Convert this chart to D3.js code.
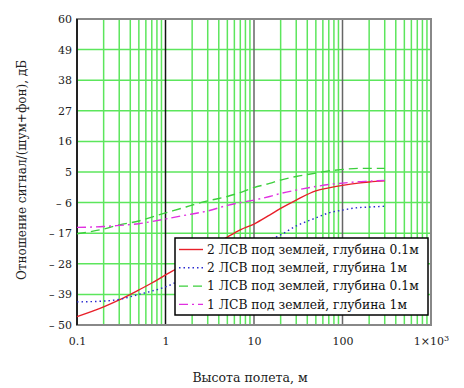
<!DOCTYPE html>
<html>
<head>
<meta charset="utf-8">
<script src="https://cdn.jsdelivr.net/npm/d3@7"></script>
<style>
  body { margin: 0; background: #fff; }
</style>
</head>
<body>
<div id="chart"></div>
<script>
// Flight height, m
const heights = [0.1, 0.2, 0.3, 0.5, 0.7, 1, 1.5, 2, 3, 5, 7, 10, 15, 20, 30, 50, 70, 100, 150, 200, 300];

// Signal/(noise+background), dB
const red01 = [-47.0, -43.5, -41.0, -37.4, -34.9, -32.0, -28.8, -26.3, -22.7, -18.4, -15.8, -13.7, -10.5, -8.1, -5.1, -1.8, -0.7, 0.2, 1.0, 1.4, 1.8];
const blue1 = [-41.7, -41.4, -40.8, -39.0, -37.8, -36.3, -33.8, -32.0, -29.5, -26.6, -24.5, -22.3, -19.4, -17.6, -14.4, -11.5, -9.7, -8.7, -7.8, -7.6, -7.3];
const green01 = [-17.2, -15.5, -14.0, -12.6, -11.2, -9.7, -8.1, -6.9, -5.4, -3.8, -2.4, -0.6, 0.9, 2.1, 3.4, 4.6, 5.4, 5.9, 6.3, 6.3, 6.3];
const magenta1 = [-14.9, -14.6, -14.2, -13.6, -12.8, -11.9, -10.8, -10.1, -9.0, -7.0, -6.0, -5.1, -3.8, -2.7, -1.5, -0.2, 0.5, 1.0, 1.5, 1.7, 2.0];

const seriesNames = [
  "2 ЛСВ под землей, глубина 0.1м",
  "2 ЛСВ под землей, глубина 1м",
  "1 ЛСВ под землей, глубина 0.1м",
  "1 ЛСВ под землей, глубина 1м",
];

const yTicks = [-50, -39, -28, -17, -6, 5, 16, 27, 38, 49, 60];
const xTicks = [0.1, 1, 10, 100, 1000];
const xTickLabels = ["0.1", "1", "10", "100", "1×10"];

const width = 464;
const height = 388;
const plot = { left: 77, right: 431, top: 19, bottom: 325 };
const serif = "DejaVu Serif";

const svg = d3
  .select("#chart")
  .append("svg")
  .attr("width", width)
  .attr("height", height);

const xScale = d3.scaleLog().domain([0.1, 1000]).range([plot.left, plot.right]);
const yScale = d3.scaleLinear().domain([-50, 60]).range([plot.bottom, plot.top]);

// Grid: minor verticals in green, decades dark
const minor = [];
[0.1, 1, 10, 100].forEach((d) => {
  for (let k = 2; k <= 9; k++) minor.push(k * d);
});

svg
  .append("g")
  .selectAll("line")
  .data(minor)
  .enter()
  .append("line")
  .attr("x1", (d) => xScale(d))
  .attr("x2", (d) => xScale(d))
  .attr("y1", plot.top)
  .attr("y2", plot.bottom)
  .attr("stroke", "#5ce65c")
  .attr("stroke-width", 1.5);

svg
  .append("g")
  .selectAll("line")
  .data(yTicks.slice(1, -1))
  .enter()
  .append("line")
  .attr("x1", plot.left)
  .attr("x2", plot.right)
  .attr("y1", (d) => yScale(d))
  .attr("y2", (d) => yScale(d))
  .attr("stroke", "#5ce65c")
  .attr("stroke-width", 1.5);

svg
  .append("g")
  .selectAll("line")
  .data([1, 10, 100])
  .enter()
  .append("line")
  .attr("x1", (d) => xScale(d))
  .attr("x2", (d) => xScale(d))
  .attr("y1", plot.top)
  .attr("y2", plot.bottom)
  .attr("stroke", (d) => (d === 1 ? "#111" : "#666"))
  .attr("stroke-width", 1.5);

// Frame
svg
  .append("rect")
  .attr("x", plot.left)
  .attr("y", plot.top)
  .attr("width", plot.right - plot.left)
  .attr("height", plot.bottom - plot.top)
  .attr("fill", "none")
  .attr("stroke", "#888")
  .attr("stroke-width", 2);

svg
  .append("line")
  .attr("x1", plot.left)
  .attr("x2", plot.left)
  .attr("y1", plot.top)
  .attr("y2", plot.bottom)
  .attr("stroke", "#000")
  .attr("stroke-width", 1.5);

// Curves
const series = [
  { values: red01, color: "#e8202a", dash: null },
  { values: blue1, color: "#2a2ad0", dash: "1.5,3" },
  { values: green01, color: "#3ccf3c", dash: "9,5" },
  { values: magenta1, color: "#e030e0", dash: "9,4,2,4" },
];

const line = d3
  .line()
  .x((d) => xScale(d[0]))
  .y((d) => yScale(d[1]))
  .curve(d3.curveMonotoneX);

series.forEach((s) => {
  svg
    .append("path")
    .datum(heights.map((h, i) => [h, s.values[i]]))
    .attr("d", line)
    .attr("fill", "none")
    .attr("stroke", s.color)
    .attr("stroke-width", 1.4)
    .attr("stroke-dasharray", s.dash);
});

// Y axis labels
const yAxis = d3
  .axisLeft(yScale)
  .tickValues(yTicks)
  .tickSize(0)
  .tickPadding(5)
  .tickFormat((d) => (d < 0 ? "– " + Math.abs(d) : d));
svg
  .append("g")
  .attr("transform", "translate(" + plot.left + ",0)")
  .call(yAxis)
  .attr("font-family", serif)
  .attr("font-size", 11)
  .call((g) => g.select(".domain").remove())
  .selectAll("text")
  .attr("fill", "#222");

// X axis labels
const xAxis = d3
  .axisBottom(xScale)
  .tickValues(xTicks)
  .tickSize(0)
  .tickPadding(12)
  .tickFormat((d, i) => xTickLabels[i]);
const xg = svg
  .append("g")
  .attr("transform", "translate(0," + plot.bottom + ")")
  .call(xAxis)
  .attr("font-family", serif)
  .attr("font-size", 11)
  .call((g) => g.select(".domain").remove());
xg.selectAll("text").attr("fill", "#222");
// exponent on the last label
xg.selectAll("text")
  .filter((d) => d === 1000)
  .append("tspan")
  .attr("dy", "-0.45em")
  .attr("font-size", 8)
  .text("3");

// Axis titles
svg
  .append("text")
  .attr("x", 250)
  .attr("y", 382)
  .attr("text-anchor", "middle")
  .attr("font-family", serif)
  .attr("font-size", 12.5)
  .attr("fill", "#222")
  .text("Высота полета, м");

svg
  .append("text")
  .attr("transform", "translate(26,170) rotate(-90)")
  .attr("text-anchor", "middle")
  .attr("font-family", serif)
  .attr("font-size", 12)
  .attr("fill", "#222")
  .text("Отношение сигнал/(шум+фон), дБ");

// Legend
const legend = svg.append("g").attr("transform", "translate(175,238)");
legend
  .append("rect")
  .attr("width", 253)
  .attr("height", 77)
  .attr("fill", "#fff")
  .attr("stroke", "#000")
  .attr("stroke-width", 1.5);

const rows = legend
  .selectAll("g.row")
  .data(series)
  .enter()
  .append("g")
  .attr("class", "row")
  .attr("transform", (d, i) => "translate(0," + (11.5 + i * 18.3) + ")");

rows
  .append("line")
  .attr("x1", 4)
  .attr("x2", 28)
  .attr("stroke", (d) => d.color)
  .attr("stroke-width", 1.4)
  .attr("stroke-dasharray", (d) => d.dash);

rows
  .append("text")
  .attr("x", 32)
  .attr("dy", "0.35em")
  .attr("font-family", serif)
  .attr("font-size", 12.3)
  .attr("fill", "#111")
  .text((d, i) => seriesNames[i]);
</script>
</body>
</html>
